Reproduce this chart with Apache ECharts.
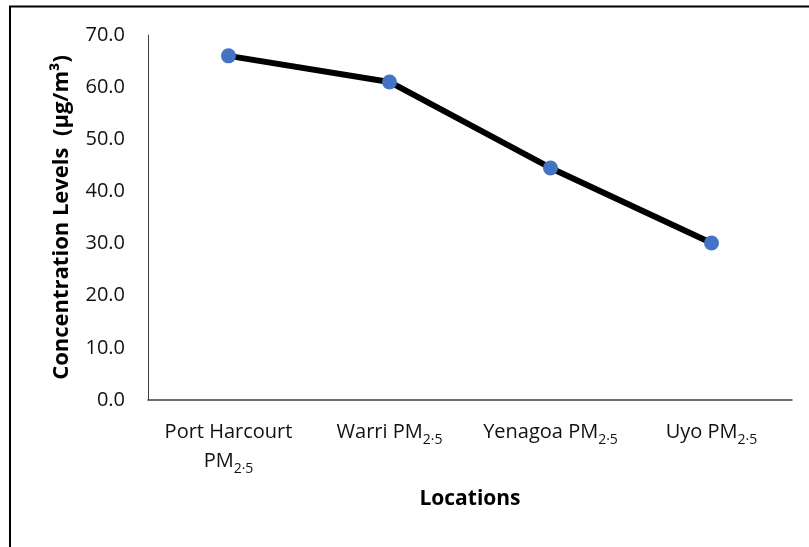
<!DOCTYPE html>
<html>
<head>
<meta charset="utf-8">
<script src="https://cdn.jsdelivr.net/npm/echarts@6/dist/echarts.min.js"></script>
<style>html,body{margin:0;padding:0;background:#fff;}#c{width:809px;height:547px;}</style>
</head>
<body>
<div id="c"></div>
<script>
const categories = ['Port Harcourt\nPM2.5', 'Warri PM2.5', 'Yenagoa PM2.5', 'Uyo PM2.5'];
const values = [66.0, 61.0, 44.5, 30.1];
const yTicks = { min: 0, max: 70, interval: 10 };
const yTitle = 'Concentration Levels  (\u00b5g/m\u00b3)';
const xTitle = 'Locations';

const FONT = '"Open Sans", "Noto Sans", sans-serif';
const chart = echarts.init(document.getElementById('c'));

function fmtCat(name) {
  return name.split('\n').map(function (line) {
    return line.replace(/PM2\.5/, '\u0001').split('\u0001').map(function (part, i, arr) {
      let s = part ? '{a|' + part + '}' : '';
      if (i < arr.length - 1) s += '{a|PM}{s|2\u00b75}';
      return s;
    }).join('');
  }).join('\n');
}

chart.setOption({
  animation: false,
  backgroundColor: '#fff',
  grid: { left: 148, right: 17, top: 35, bottom: 147 },
  graphic: [{
    type: 'polyline',
    shape: { points: [[10, 560], [10, 6.5], [830, 6.5]] },
    style: { stroke: '#000', lineWidth: 2, fill: null }
  }],
  xAxis: {
    type: 'category',
    data: categories,
    boundaryGap: true,
    name: xTitle,
    nameLocation: 'middle',
    nameGap: 89,
    nameTextStyle: { fontFamily: FONT, fontSize: 21, fontWeight: 'bold', color: '#000' },
    axisLine: { lineStyle: { color: '#404040', width: 1.5 } },
    axisTick: { show: false },
    axisLabel: {
      margin: 18,
      interval: 0,
      formatter: fmtCat,
      rich: {
        a: { fontFamily: FONT, fontSize: 20, color: '#111', lineHeight: 29 },
        s: { fontFamily: FONT, fontSize: 14, color: '#111', lineHeight: 20, verticalAlign: 'bottom' }
      }
    }
  },
  yAxis: {
    type: 'value',
    min: yTicks.min,
    max: yTicks.max,
    interval: yTicks.interval,
    name: yTitle,
    nameLocation: 'middle',
    nameGap: 75,
    nameTextStyle: { fontFamily: FONT, fontSize: 22, fontWeight: 'bold', color: '#000' },
    axisLine: { show: true, lineStyle: { color: '#404040', width: 1 } },
    axisTick: { show: false },
    splitLine: { show: false },
    axisLabel: {
      margin: 23,
      fontFamily: FONT,
      fontSize: 20,
      color: '#111',
      formatter: function (v) { return v.toFixed(1); }
    }
  },
  series: [{
    type: 'line',
    data: values,
    symbol: 'circle',
    symbolSize: 15,
    lineStyle: { color: '#000', width: 6 },
    itemStyle: { color: '#4472C4' },
    z: 3
  }]
});
</script>
</body>
</html>
